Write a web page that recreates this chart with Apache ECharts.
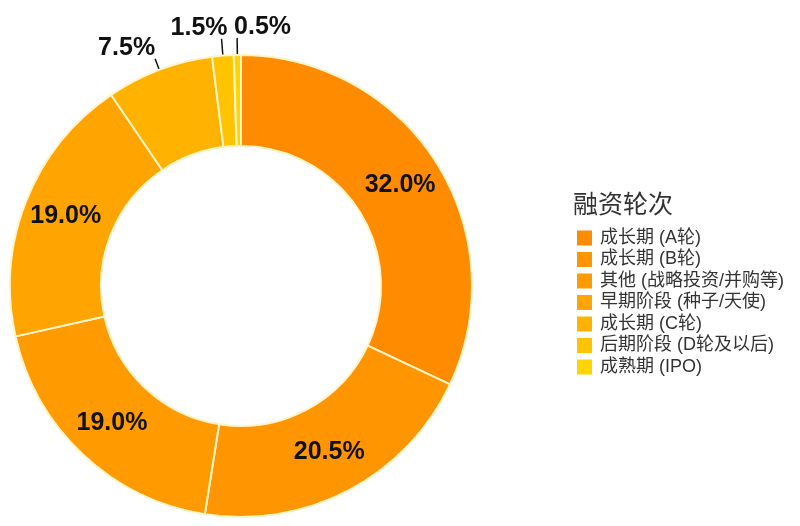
<!DOCTYPE html>
<html>
<head>
<meta charset="utf-8">
<script src="https://cdn.jsdelivr.net/npm/echarts@6/dist/echarts.min.js"></script>
<style>
html, body { margin: 0; padding: 0; background: #fff; }
#pieChart { width: 800px; height: 526px; }
</style>
</head>
<body>
<div id="pieChart"></div>
<script>
var legendTitle = '融资轮次';
var stages = ['成长期 (A轮)', '成长期 (B轮)', '其他 (战略投资/并购等)', '早期阶段 (种子/天使)', '成长期 (C轮)', '后期阶段 (D轮及以后)', '成熟期 (IPO)'];
var shares = [32.0, 20.5, 19.0, 19.0, 7.5, 1.5, 0.5];
var colors = ['#FF8C00', '#FF9500', '#FF9B00', '#FFA400', '#FFB300', '#FFC300', '#FFD400'];

// the three small slices have their labels outside, on short leader lines
var outsideFrom = 4;
var outsideLineLen = [12, 17, 17];
var outsideAlign = ['right', 'right', 'left'];
var outsideShift = [0, 6, -3];

var fontFamily = "'Liberation Sans', 'Noto Sans CJK SC', sans-serif";

function buildData() {
    var data = [];
    for (var i = 0; i < stages.length; i++) {
        var outside = i >= outsideFrom;
        data.push({
            name: stages[i],
            value: shares[i],
            itemStyle: { color: colors[i] },
            label: { position: outside ? 'outside' : 'inside' },
            labelLine: outside ? { show: true, length: outsideLineLen[i - outsideFrom] } : { show: false }
        });
    }
    return data;
}

var option = {
    backgroundColor: '#fff',
    title: {
        text: legendTitle,
        left: 568,
        top: 189,
        textStyle: {
            fontFamily: fontFamily,
            fontSize: 25,
            fontWeight: 'normal',
            color: '#333'
        }
    },
    legend: {
        orient: 'vertical',
        left: 572,
        top: 224,
        itemWidth: 15,
        itemHeight: 15,
        itemGap: 3.5,
        icon: 'rect',
        data: stages,
        itemStyle: { borderWidth: 0 },
        textStyle: {
            fontFamily: fontFamily,
            fontSize: 18,
            color: '#333',
            padding: [0, 0, 0, 3]
        }
    },
    series: [{
        type: 'pie',
        center: [241, 286],
        radius: [140, 231],
        startAngle: 90,
        clockwise: true,
        avoidLabelOverlap: false,
        silent: true,
        itemStyle: {
            borderColor: '#FFF4C8',
            borderWidth: 2
        },
        label: {
            formatter: function (p) { return p.value.toFixed(1) + '%'; },
            fontFamily: fontFamily,
            fontSize: 25,
            fontWeight: 'bold',
            color: '#111'
        },
        labelLine: {
            length: 12,
            length2: 0,
            lineStyle: { color: '#111', width: 1.5 }
        },
        labelLayout: function (p) {
            if (p.dataIndex < outsideFrom || !p.labelLinePoints) {
                return {};
            }
            var k = p.dataIndex - outsideFrom;
            var pts = p.labelLinePoints;
            var end = pts[pts.length - 1];
            return {
                x: end[0] + outsideShift[k],
                y: end[1] + 2,
                align: outsideAlign[k],
                verticalAlign: 'bottom',
                labelLinePoints: pts
            };
        },
        data: buildData()
    }]
};

var pieChart = echarts.init(document.getElementById('pieChart'));
pieChart.setOption(option);
</script>
</body>
</html>
